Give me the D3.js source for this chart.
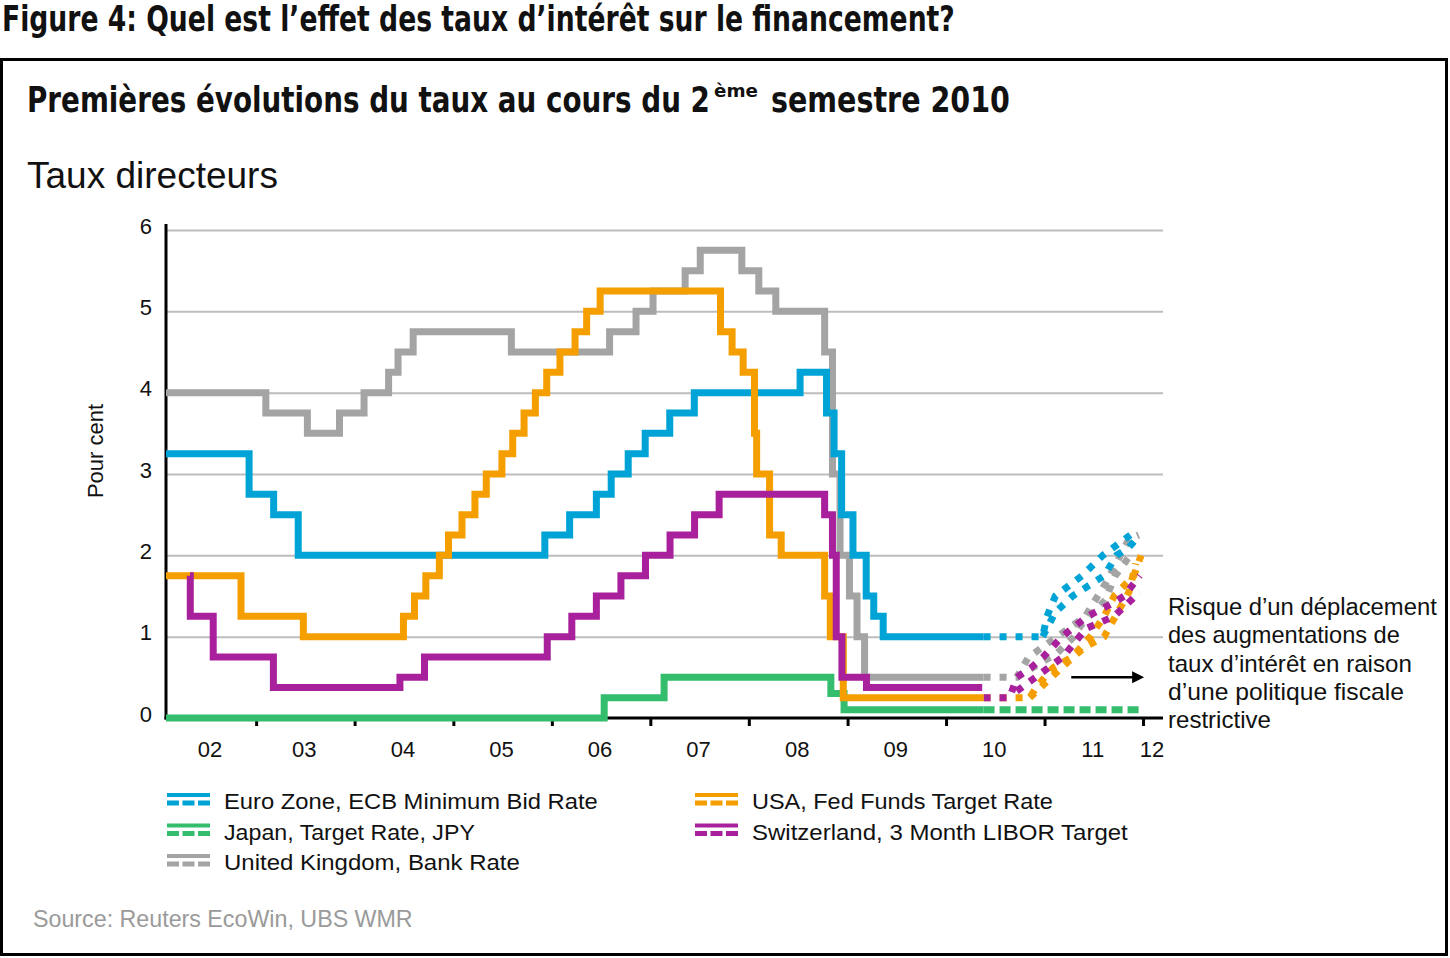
<!DOCTYPE html>
<html><head><meta charset="utf-8">
<script src="https://cdn.jsdelivr.net/npm/d3@7"></script>
<style>body{margin:0;background:#fff}</style>
</head><body>
<svg id="c" width="1450" height="958"></svg>
<script>
const parse = d3.timeParse("%Y-%m-%d");

// ---- data (policy rates, %) ----
const ecbHist = [["2002-02-01",3.25],["2002-12-06",2.75],["2003-03-07",2.5],["2003-06-06",2.0],["2005-12-06",2.25],["2006-03-08",2.5],["2006-06-15",2.75],["2006-08-09",3.0],["2006-10-11",3.25],["2006-12-13",3.5],["2007-03-14",3.75],["2007-06-13",4.0],["2008-07-09",4.25],["2008-10-15",3.75],["2008-11-12",3.25],["2008-12-10",2.5],["2009-01-21",2.0],["2009-03-11",1.5],["2009-04-08",1.25],["2009-05-13",1.0],["2010-05-20",1.0]];
const ecbFcstA = [["2010-05-20",1.0],["2010-12-25",1.0],["2011-01-10",1.25],["2011-02-10",1.5],["2011-05-20",1.75],["2011-08-05",2.0],["2011-11-15",2.25]];
const ecbFcstB = [["2010-12-25",1.0],["2011-02-10",1.3],["2011-04-15",1.5],["2011-08-10",1.75],["2011-09-25",2.0],["2011-11-10",2.1],["2011-12-20",2.25]];

const jpyHist = [["2002-02-01",0.0],["2006-07-14",0.25],["2007-02-21",0.5],["2008-10-31",0.3],["2008-12-19",0.1],["2010-05-20",0.1]];
const jpyFcst = [["2010-05-20",0.1],["2011-12-25",0.1]];

const ukHist = [["2002-02-01",4.0],["2003-02-06",3.75],["2003-07-10",3.5],["2003-11-06",3.75],["2004-02-05",4.0],["2004-05-06",4.25],["2004-06-10",4.5],["2004-08-05",4.75],["2005-08-04",4.5],["2006-08-03",4.75],["2006-11-09",5.0],["2007-01-11",5.25],["2007-05-10",5.5],["2007-07-05",5.75],["2007-12-06",5.5],["2008-02-07",5.25],["2008-04-10",5.0],["2008-10-08",4.5],["2008-11-06",3.0],["2008-12-04",2.0],["2009-01-08",1.5],["2009-02-05",1.0],["2009-03-05",0.5],["2010-05-20",0.5]];
const ukFcstA = [["2010-05-20",0.5],["2010-09-20",0.5],["2010-10-08",0.6],["2010-11-03",0.75],["2011-02-17",1.0],["2011-06-01",1.25],["2011-08-14",1.65],["2011-11-10",2.2],["2011-12-16",2.25]];
const ukFcstB = [["2010-09-20",0.5],["2011-02-17",0.8],["2011-04-20",1.0],["2011-05-18",1.15],["2011-08-14",1.45],["2011-09-20",1.75],["2011-11-14",2.0]];

const usHist = [["2002-02-01",1.75],["2002-11-06",1.25],["2003-06-25",1.0],["2004-06-30",1.25],["2004-08-10",1.5],["2004-09-21",1.75],["2004-11-10",2.0],["2004-12-14",2.25],["2005-02-02",2.5],["2005-03-22",2.75],["2005-05-03",3.0],["2005-06-30",3.25],["2005-08-09",3.5],["2005-09-20",3.75],["2005-11-01",4.0],["2005-12-13",4.25],["2006-01-31",4.5],["2006-03-28",4.75],["2006-05-10",5.0],["2006-06-29",5.25],["2007-09-18",4.75],["2007-10-31",4.5],["2007-12-11",4.25],["2008-01-22",3.5],["2008-01-30",3.0],["2008-03-18",2.25],["2008-04-30",2.0],["2008-10-08",1.5],["2008-10-29",1.0],["2008-12-16",0.25],["2010-05-20",0.25]];
const usFcstA = [["2010-05-20",0.25],["2010-11-07",0.25],["2010-12-02",0.38],["2011-01-01",0.5],["2011-02-03",0.62],["2011-04-13",0.75],["2011-06-20",1.0],["2011-08-10",1.25],["2011-09-16",1.5],["2011-11-28",1.75],["2011-12-25",2.0]];
const usFcstB = [["2010-11-07",0.25],["2011-03-22",0.67],["2011-05-29",0.87],["2011-08-10",1.0],["2011-11-10",1.55],["2011-12-05",1.9]];

const chHist = [["2002-05-01",1.75],["2002-05-02",1.25],["2002-07-26",0.75],["2003-03-06",0.375],["2004-06-17",0.5],["2004-09-16",0.75],["2005-12-15",1.0],["2006-03-16",1.25],["2006-06-15",1.5],["2006-09-14",1.75],["2006-12-14",2.0],["2007-03-15",2.25],["2007-06-14",2.5],["2007-09-13",2.75],["2008-10-08",2.5],["2008-11-06",2.0],["2008-11-20",1.0],["2008-12-11",0.5],["2009-03-12",0.375],["2010-05-15",0.375]];
const chFcstA = [["2010-05-20",0.25],["2010-08-25",0.25],["2010-09-20",0.5],["2010-11-16",0.63],["2010-12-27",0.75],["2011-03-07",1.0],["2011-06-08",1.25],["2011-09-16",1.42],["2011-10-23",1.5],["2011-12-20",1.75]];
const chFcstB = [["2010-09-20",0.33],["2011-03-10",0.75],["2011-06-04",1.1],["2011-09-16",1.25],["2011-12-20",1.55]];

const yTickValues = [0,1,2,3,4,5,6];
const xTickYears = [2003,2004,2005,2006,2007,2008,2009,2010,2011,2012];
const xLabelYears = [2002,2003,2004,2005,2006,2007,2008,2009,2010,2011,2012];
const xLabels = ["02","03","04","05","06","07","08","09","10","11","12"];

const legendLeft = ["Euro Zone, ECB Minimum Bid Rate","Japan, Target Rate, JPY","United Kingdom, Bank Rate"];
const legendRight = ["USA, Fed Funds Target Rate","Switzerland, 3 Month LIBOR Target"];
const noteLines = ["Risque d\u2019un d\u00e9placement","des augmentations de","taux d\u2019int\u00e9r\u00eat en raison","d\u2019une politique fiscale","restrictive"];

const C = {blue:"#00a3d5", green:"#33bd6d", gray:"#a4a4a4", orange:"#f59e00", purple:"#a9209c"};

const toPts = a => a.map(([d,v]) => ({date: parse(d), v}));
// drawing order: green, gray, blue, orange, purple
const series = [
  {color:C.green, hist:jpyHist, fcst:[jpyFcst], dash:"11,5"},
  {color:C.gray, hist:ukHist, fcst:[ukFcstA, ukFcstB], dash:"7,9"},
  {color:C.blue, hist:ecbHist, fcst:[ecbFcstA, ecbFcstB], dash:"7,9"},
  {color:C.orange, hist:usHist, fcst:[usFcstA, usFcstB], dash:"7,9"},
  {color:C.purple, hist:chHist, fcst:[chFcstA, chFcstB], dash:"7,9"}
];

const svg = d3.select("#c");
const SANS = "'Liberation Sans', Arial, sans-serif";
const NARROW = "'Liberation Sans Narrow', 'DejaVu Sans Condensed', 'Liberation Sans', sans-serif";

// place a text at (px,py) and squeeze it horizontally to width w (real transform, so boxes are exact)
function fitText(sel, px, py, w){
  const n = sel.node().getComputedTextLength();
  const k = n > 0 ? w / n : 1;
  sel.attr("x",0).attr("y",0).attr("transform",`translate(${px},${py}) scale(${k},1)`);
  return sel;
}

// Titles
fitText(svg.append("text").attr("font-family",NARROW).attr("font-weight","bold")
  .attr("font-size",35).attr("fill","#111")
  .text("Figure 4: Quel est l\u2019effet des taux d\u2019int\u00e9r\u00eat sur le financement?"), 2, 31, 953);

svg.append("rect").attr("x",1.5).attr("y",59.5).attr("width",1445).attr("height",895)
  .attr("fill","none").attr("stroke","#000").attr("stroke-width",3);

// subtitle: main part, superscript, tail
const subT = (size, txt) => svg.append("text").attr("font-family",NARROW).attr("font-weight","bold")
  .attr("fill","#111").attr("font-size",size).text(txt);
fitText(subT(35,"Premi\u00e8res \u00e9volutions du taux au cours du 2"), 27, 112, 683);
fitText(subT(18,"\u00e8me"), 714, 97, 44);
fitText(subT(35,"semestre 2010"), 771, 112, 239);

fitText(svg.append("text").attr("font-family",SANS).attr("font-size",36).attr("fill","#111")
  .text("Taux directeurs"), 27, 188, 251);

// Scales
const x = d3.scaleTime().domain([parse("2002-02-01"), parse("2012-03-15")]).range([166,1163]);
const y = d3.scaleLinear().domain([0,6]).range([718,230]);

// grid
const grid = svg.append("g").attr("transform","translate(166,0)")
  .call(d3.axisLeft(y).tickValues([1,2,3,4,5,6]).tickSize(-(x.range()[1]-x.range()[0])).tickFormat(""));
grid.select(".domain").remove();
grid.selectAll("line").attr("stroke","#bdbdbd").attr("stroke-width",2);

// y labels
const yax = svg.append("g").attr("transform","translate(166,0)")
  .call(d3.axisLeft(y).tickValues(yTickValues).tickSize(0).tickPadding(14).tickFormat(d3.format("d")));
yax.select(".domain").remove();
yax.selectAll("text").attr("font-family",SANS).attr("font-size",22).attr("fill","#111").attr("dy","0.15em");

svg.append("text").attr("transform","translate(103,451) rotate(-90)").attr("text-anchor","middle")
  .attr("font-family",SANS).attr("font-size",22).attr("fill","#111").text("Pour cent");

// x ticks
const xax = svg.append("g").attr("transform",`translate(0,${y(0)})`)
  .call(d3.axisBottom(x).tickValues(xTickYears.map(yr=>new Date(yr,0,1))).tickSize(8).tickFormat(""));
xax.select(".domain").remove();
xax.selectAll("line").attr("stroke","#000").attr("stroke-width",3);

// x labels centered on visible part of each year
const [x0,x1] = x.range();
svg.append("g").selectAll("text").data(xLabelYears).join("text")
  .attr("x",(yr)=> (Math.max(x0,x(new Date(yr,0,1))) + Math.min(x1,x(new Date(yr+1,0,1))))/2 - 1)
  .attr("y",757).attr("text-anchor","middle").attr("font-family",SANS).attr("font-size",22).attr("fill","#111")
  .text((d,i)=>xLabels[i]);

// axis lines
svg.append("line").attr("x1",x0).attr("x2",x0).attr("y1",224).attr("y2",y(0)+1.5).attr("stroke","#000").attr("stroke-width",3);
svg.append("line").attr("x1",x0-1.5).attr("x2",x1).attr("y1",y(0)).attr("y2",y(0)).attr("stroke","#000").attr("stroke-width",3);

// series
const stepLine = d3.line().x(d=>x(d.date)).y(d=>y(d.v)).curve(d3.curveStepAfter);
const linLine = d3.line().x(d=>x(d.date)).y(d=>y(d.v));
const lg = svg.append("g");
series.forEach(s=>{
  s.fcst.forEach(f=>{
    lg.append("path").attr("d",linLine(toPts(f))).attr("fill","none").attr("stroke",s.color)
      .attr("stroke-width",7).attr("stroke-dasharray",s.dash);
  });
});
series.forEach(s=>{
  lg.append("path").attr("d",stepLine(toPts(s.hist))).attr("fill","none").attr("stroke",s.color)
    .attr("stroke-width",7).attr("stroke-linejoin","miter");
});

// arrow annotation
const ay = y(0.5);
const ax1 = x(parse("2011-04-10")), ax2 = x(parse("2012-01-05"));
svg.append("line").attr("x1",ax1).attr("x2",ax2-10).attr("y1",ay).attr("y2",ay).attr("stroke","#000").attr("stroke-width",2.5);
svg.append("path").attr("d",`M${ax2-12},${ay-6}L${ax2},${ay}L${ax2-12},${ay+6}Z`).attr("fill","#000");

// note text
const noteW = [269,232,244,236,103];
noteLines.forEach((l,i)=>{
  fitText(svg.append("text").attr("font-family",SANS).attr("font-size",23).attr("fill","#111").text(l),
    1168, 615+i*28.3, noteW[i]);
});

// legend
const legColsLeft = [C.blue, C.green, C.gray];
const legColsRight = [C.orange, C.purple];
const legWLeft = [374,251,296], legWRight = [301,376];
function legendItem(x0, base, col, label, w){
  const g = svg.append("g");
  g.append("line").attr("x1",x0).attr("x2",x0+43).attr("y1",base-14).attr("y2",base-14).attr("stroke",col).attr("stroke-width",4);
  g.append("line").attr("x1",x0).attr("x2",x0+43).attr("y1",base-6).attr("y2",base-6).attr("stroke",col).attr("stroke-width",5).attr("stroke-dasharray","12,3.5");
  fitText(g.append("text").attr("font-family",SANS).attr("font-size",22).attr("fill","#111").text(label), x0+57, base, w);
}
legendLeft.forEach((l,i)=>legendItem(167, 809+i*30.5, legColsLeft[i], l, legWLeft[i]));
legendRight.forEach((l,i)=>legendItem(695, 809+i*30.5, legColsRight[i], l, legWRight[i]));

// source
fitText(svg.append("text").attr("font-family",SANS).attr("font-size",23).attr("fill","#9a9a9a")
  .text("Source: Reuters EcoWin, UBS WMR"), 33, 927, 380);
</script>
</body></html>
